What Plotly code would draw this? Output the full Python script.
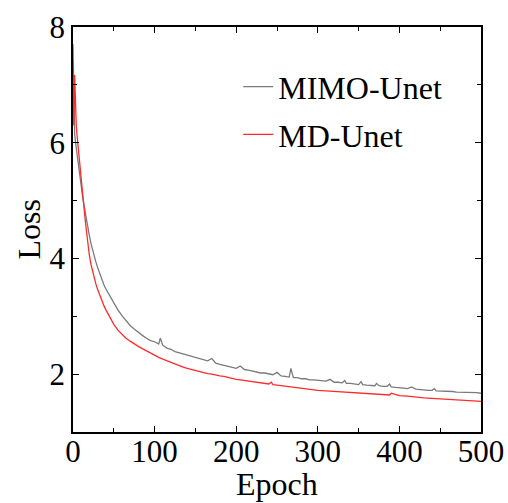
import plotly.graph_objects as go

# ---- data ----
mimo_epoch = [0, 1, 2, 3, 4, 5, 6, 7, 8, 9, 10, 11, 12, 13, 14, 16, 18, 20, 22, 24, 26, 28, 30, 32, 34, 36, 38,
              40, 45, 50, 55, 60, 65, 70, 75, 80, 85, 90, 95, 100, 105, 107, 110, 115, 120, 125, 130, 135, 140,
              145, 150, 155, 160, 165, 170, 175, 180, 185, 190, 195, 200, 205, 210, 215, 220, 225, 230, 235, 240,
              245, 250, 255, 260, 265, 267, 270, 275, 280, 285, 290, 295, 300, 305, 310, 315, 320, 325, 330, 333,
              335, 340, 345, 350, 353, 355, 360, 365, 370, 372, 375, 380, 385, 388, 390, 395, 400, 405, 410, 415,
              420, 425, 430, 435, 440, 443, 445, 450, 455, 460, 465, 470, 475, 480, 485, 490, 495, 500]
mimo_loss = [7.70, 6.30, 6.15, 6.02, 5.90, 5.78, 5.66, 5.55, 5.44, 5.33, 5.23, 5.13, 5.04, 4.96, 4.87, 4.70, 4.54,
             4.40, 4.26, 4.14, 4.04, 3.94, 3.85, 3.77, 3.68, 3.61, 3.54,
             3.48, 3.35, 3.23, 3.11, 3.01, 2.92, 2.84, 2.78, 2.72, 2.67, 2.62, 2.58, 2.56, 2.52, 2.62, 2.50, 2.45,
             2.43, 2.39, 2.37, 2.34, 2.33, 2.30, 2.29, 2.26, 2.25, 2.23, 2.27, 2.19, 2.17, 2.15, 2.13, 2.12, 2.10,
             2.14, 2.08, 2.07, 2.05, 2.04, 2.02, 2.02, 2.00, 1.99, 2.03, 1.97, 1.96, 1.95, 2.10, 1.94, 1.94, 1.92,
             1.92, 1.90, 1.90, 1.89, 1.88, 1.88, 1.91, 1.86, 1.86, 1.85, 1.89, 1.84, 1.84, 1.83, 1.82, 1.87, 1.82,
             1.81, 1.81, 1.80, 1.84, 1.80, 1.79, 1.79, 1.83, 1.78, 1.77, 1.77, 1.76, 1.75, 1.78, 1.74, 1.73, 1.73,
             1.72, 1.72, 1.75, 1.71, 1.71, 1.70, 1.70, 1.70, 1.69, 1.69, 1.69, 1.68, 1.68, 1.68, 1.67]

md_epoch = [0, 1, 2, 3, 4, 5, 6, 7, 8, 9, 10, 11, 12, 13, 14, 15, 16, 17, 18, 19, 20, 22, 24, 26, 28, 30, 32, 34,
            36, 38, 40, 45, 50, 55, 60, 65, 70, 75, 80, 85, 90, 95, 100, 105, 110, 115, 120, 125, 130, 135, 140,
            145, 150, 155, 160, 165, 170, 175, 180, 185, 190, 195, 200, 205, 210, 215, 220, 225, 230, 235, 240,
            243, 245, 250, 255, 260, 265, 270, 275, 280, 285, 290, 295, 300, 310, 320, 330, 340, 350, 360, 370,
            380, 388, 390, 400, 410, 420, 430, 440, 450, 460, 470, 480, 490, 500]
md_loss = [7.38, 6.30, 7.17, 6.60, 6.30, 6.12, 5.96, 5.81, 5.67, 5.53, 5.39, 5.25, 5.10, 4.96, 4.81, 4.66, 4.53,
           4.40, 4.28, 4.17, 4.06, 3.90, 3.77, 3.66, 3.56, 3.47, 3.39, 3.32, 3.25, 3.18, 3.12, 2.98, 2.86, 2.76,
           2.69, 2.62, 2.57, 2.52, 2.48, 2.44, 2.40, 2.37, 2.33, 2.29, 2.26, 2.23, 2.20, 2.17, 2.14, 2.12, 2.10,
           2.08, 2.06, 2.04, 2.03, 2.01, 2.00, 1.98, 1.97, 1.96, 1.94, 1.93, 1.91, 1.90, 1.89, 1.87, 1.86, 1.86,
           1.85, 1.84, 1.83, 1.86, 1.82, 1.81, 1.80, 1.79, 1.78, 1.77, 1.76, 1.75, 1.74, 1.73, 1.73, 1.72, 1.71,
           1.70, 1.69, 1.68, 1.675, 1.67, 1.66, 1.65, 1.64, 1.67, 1.63, 1.62, 1.60, 1.59, 1.58, 1.57, 1.565,
           1.56, 1.55, 1.54, 1.53]

x_ticks = [0, 100, 200, 300, 400, 500]
y_ticks = [2, 4, 6, 8]
x_title = "Epoch"
y_title = "Loss"

FONT = "Liberation Serif"

fig = go.Figure()
fig.add_trace(go.Scatter(x=mimo_epoch, y=mimo_loss, mode="lines", name="MIMO-Unet",
                         line=dict(color="#7a7a7a", width=1.3), legendgroup="a"))
fig.add_trace(go.Scatter(x=md_epoch, y=md_loss, mode="lines", name="MD-Unet",
                         line=dict(color="#ff2a2a", width=1.3), legendgroup="b"))

axis_common = dict(showline=True, linecolor="black", linewidth=1.5, mirror="ticks",
                   ticks="inside", ticklen=6, tickwidth=1.2, tickcolor="black",
                   showgrid=False, zeroline=False,
                   tickfont=dict(family=FONT, size=31, color="black"))

fig.update_xaxes(range=[0, 500], tickvals=x_ticks, ticklabelstandoff=-9,
                 minor=dict(ticks="inside", dtick=50, tick0=0, ticklen=4, tickcolor="black", tickwidth=1.2),
                 **axis_common)
fig.update_yaxes(range=[1, 8], tickvals=y_ticks,
                 minor=dict(ticks="inside", dtick=1, tick0=1, ticklen=4, tickcolor="black", tickwidth=1.2),
                 **axis_common)

fig.add_annotation(text=x_title, xref="paper", yref="paper", x=0.5, y=-0.128,
                   xanchor="center", yanchor="middle", showarrow=False,
                   font=dict(family=FONT, size=32, color="black"))
fig.add_annotation(text=y_title, xref="paper", yref="paper", x=-0.11, y=0.5,
                   xanchor="center", yanchor="middle", showarrow=False, textangle=-90,
                   font=dict(family=FONT, size=32, color="black"))

fig.update_layout(
    width=508, height=503,
    margin=dict(l=73, r=27, t=27, b=71, autoexpand=False),
    paper_bgcolor="white", plot_bgcolor="white",
    showlegend=True,
    legend=dict(x=0.405, y=0.92, xanchor="left", yanchor="top",
                font=dict(family=FONT, size=32, color="black"),
                bgcolor="rgba(0,0,0,0)", tracegroupgap=3, traceorder="grouped"),
)

fig.write_html("out.html")
